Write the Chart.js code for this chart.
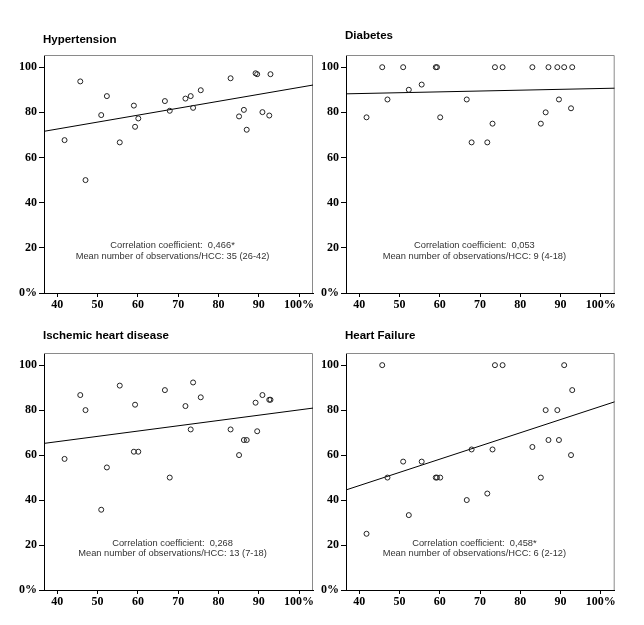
<!DOCTYPE html>
<html>
<head>
<meta charset="utf-8">
<script src="https://cdn.jsdelivr.net/npm/chart.js@4/dist/chart.umd.min.js"></script>
<style>
    body { margin: 0; background: #fff; }
    #wrap { position: relative; width: 644px; height: 625px; background: #fff; }
    #wrap canvas { position: absolute; }
</style>
</head>
<body>
<div id="wrap"></div>
<script>
/* Four scatter panels: proportion per hospital vs. coverage, with fitted line */

// x: same hospitals in every panel (%)
const coverage = [41.8, 45.7, 47.0, 50.9, 52.3, 55.5, 59.0, 59.3, 60.1, 66.7, 67.9, 71.8,
    73.1, 73.7, 75.6, 83.0, 85.1, 86.3, 87.0, 89.2, 89.6, 90.9, 92.6, 92.9];

const hypertension = [67.7, 93.7, 50.0, 78.8, 87.2, 66.7, 83.0, 73.6, 77.3, 85.0, 80.7, 86.1,
    87.2, 82.0, 89.8, 95.1, 78.2, 81.1, 72.3, 97.3, 96.9, 80.1, 78.6, 96.9];
const diabetes = [77.8, 100, 85.7, 100, 90.0, 92.3, 100, 100, 77.8, 85.7, 66.7, 66.7,
    75.0, 100, 100, 100, 75.0, 80.0, 100, 100, 85.7, 100, 81.8, 100];
const ischemic = [58.3, 86.7, 80.0, 35.7, 54.5, 90.9, 61.5, 82.4, 61.5, 88.9, 50.0, 81.8,
    71.4, 92.3, 85.7, 71.4, 60.0, 66.7, 66.7, 83.3, 70.6, 86.7, 84.6, 84.6];
const heartFailure = [25.0, 100, 50.0, 57.1, 33.3, 57.1, 50.0, 50.0, 50.0, 40.0, 62.5, 42.9,
    62.5, 100, 100, 63.6, 50.0, 80.0, 66.7, 80.0, 66.7, 100, 60.0, 88.9];

const titles = ['Hypertension', 'Diabetes', 'Ischemic heart disease', 'Heart Failure'];
const series = [hypertension, diabetes, ischemic, heartFailure];
// fitted line, value at left and right end of the x axis
const fitStart = [71.6, 88.2, 65.2, 44.5];
const fitEnd = [92.1, 90.7, 80.9, 83.7];
const correlations = ['0,466*', '0,053', '0,268', '0,458*'];
const meanObs = ['35 (26-42)', '9 (4-18)', '13 (7-18)', '6 (2-12)'];

const xTicks = [40, 50, 60, 70, 80, 90, 100];
const yTicks = [0, 20, 40, 60, 80, 100];
const X_MIN = 36.7, X_MAX = 103.45, Y_MAX = 105.4;
const NOTE_X = 68.6, NOTE_Y = [20.9, 16.2];

// canvas placement and plot area inside it (px)
const panels = [
    { left: 0, top: 0, w: 322, h: 312, area: { l: 44, t: 55, r: 313, b: 293 }, titleDy: -15 },
    { left: 318, top: 0, w: 326, h: 312, area: { l: 28, t: 55, r: 296.7, b: 293 }, titleDy: -19 },
    { left: 0, top: 312, w: 322, h: 313, area: { l: 44, t: 41, r: 313, b: 278 }, titleDy: -17 },
    { left: 318, top: 312, w: 326, h: 313, area: { l: 28, t: 41, r: 296.7, b: 278 }, titleDy: -17 },
];

const TICK_FONT = { family: '"Liberation Serif", "Times New Roman", serif', size: 12, weight: 'bold' };

function makePanel(i) {
    const p = panels[i];
    const canvas = document.createElement('canvas');
    canvas.width = p.w;
    canvas.height = p.h;
    canvas.style.left = p.left + 'px';
    canvas.style.top = p.top + 'px';
    canvas.style.width = p.w + 'px';
    canvas.style.height = p.h + 'px';
    document.getElementById('wrap').appendChild(canvas);

    const points = coverage.map((x, k) => ({ x, y: series[i][k] }));

    new Chart(canvas, {
        type: 'scatter',
        data: {
            datasets: [
                {
                    data: points,
                    pointRadius: 2.5,
                    pointBorderWidth: 1,
                    pointBorderColor: '#222',
                    pointBackgroundColor: 'rgba(0,0,0,0)',
                },
                {
                    type: 'line',
                    data: [{ x: X_MIN, y: fitStart[i] }, { x: X_MAX, y: fitEnd[i] }],
                    borderColor: '#000',
                    borderWidth: 1,
                    pointRadius: 0,
                },
            ],
        },
        options: {
            responsive: false,
            animation: false,
            events: [],
            layout: { padding: { left: 0, top: p.area.t, right: p.w - p.area.r, bottom: 0 } },
            plugins: { legend: { display: false }, tooltip: { enabled: false } },
            scales: {
                x: {
                    type: 'linear',
                    min: X_MIN,
                    max: X_MAX,
                    afterBuildTicks: (s) => { s.ticks = xTicks.map((v) => ({ value: v })); },
                    afterFit: (s) => { s.height = p.h - p.area.b; },
                    grid: { drawOnChartArea: false, tickLength: 4, color: '#000' },
                    border: { color: '#000', width: 1 },
                    ticks: {
                        padding: 1,
                        maxRotation: 0,
                        color: '#000',
                        font: TICK_FONT,
                        callback: (v) => (v === 100 ? '100%' : String(v)),
                    },
                },
                y: {
                    min: 0,
                    max: Y_MAX,
                    afterBuildTicks: (s) => { s.ticks = yTicks.map((v) => ({ value: v })); },
                    afterFit: (s) => { s.width = p.area.l; },
                    grid: { drawOnChartArea: false, tickLength: 5, color: '#000' },
                    border: { color: '#000', width: 1 },
                    ticks: {
                        padding: 2,
                        color: '#000',
                        font: TICK_FONT,
                        callback: (v) => (v === 0 ? '0%' : String(v)),
                    },
                },
            },
        },
        plugins: [{
            id: 'frameAndText',
            beforeDatasetsDraw(c) {
                const { ctx, chartArea: a } = c;
                ctx.save();
                ctx.strokeStyle = '#8a8a8a';
                ctx.lineWidth = 1;
                ctx.beginPath();
                ctx.moveTo(a.left, a.top + 0.5);
                ctx.lineTo(a.right - 0.5, a.top + 0.5);
                ctx.lineTo(a.right - 0.5, a.bottom);
                ctx.stroke();
                ctx.restore();
            },
            afterDraw(c) {
                const { ctx, chartArea: a, scales } = c;
                ctx.save();
                ctx.fillStyle = '#000';
                ctx.textBaseline = 'middle';
                ctx.textAlign = 'left';
                ctx.font = 'bold 11.5px "Liberation Sans", Arial, sans-serif';
                ctx.fillText(titles[i], a.left - 1, a.top + p.titleDy);

                ctx.fillStyle = '#333';
                ctx.textAlign = 'center';
                ctx.font = '9.3px "Liberation Sans", Arial, sans-serif';
                const cx = scales.x.getPixelForValue(NOTE_X);
                ctx.fillText('Correlation coefficient:  ' + correlations[i], cx,
                    scales.y.getPixelForValue(NOTE_Y[0]));
                ctx.fillText('Mean number of observations/HCC: ' + meanObs[i], cx,
                    scales.y.getPixelForValue(NOTE_Y[1]));
                ctx.restore();
            },
        }],
    });
}

titles.forEach((t, i) => makePanel(i));
</script>
</body>
</html>
